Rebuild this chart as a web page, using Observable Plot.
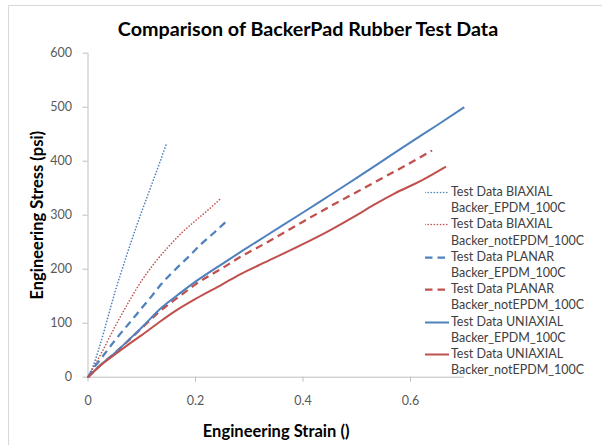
<!DOCTYPE html>
<html>
<head>
<meta charset="utf-8">
<script src="https://cdn.jsdelivr.net/npm/d3@7"></script>
<script src="https://cdn.jsdelivr.net/npm/@observablehq/plot@0.6"></script>
<style>
  body { margin: 0; background: #fff; font-family: Lato, "Open Sans", sans-serif; }
  #chart { position: relative; width: 602px; height: 445px; overflow: hidden; }
  #frame { position: absolute; left: 8px; top: 5px; width: 800px; height: 600px;
           border-top: 1px solid #d9d9d9; border-left: 1px solid #d9d9d9; }
  #title { position: absolute; left: 0; top: 16px; width: 616px; text-align: center;
           font-weight: bold; font-size: 19.7px; line-height: 26px; color: #000; }
  #plot { position: absolute; left: 0; top: 40px; }
  #legend { position: absolute; left: 425px; top: 184px; font-size: 12.5px; color: #404040; }
  .entry { display: flex; align-items: flex-start; height: 32.4px; }
  .entry svg { flex: none; margin-top: 0; }
  .entry .txt { line-height: 16.2px; white-space: nowrap; margin-left: 2px; }
</style>
</head>
<body>
<div id="chart">
  <div id="frame"></div>
  <div id="title"></div>
  <div id="plot"></div>
  <div id="legend"></div>
</div>
<script>
// Engineering stress (psi) vs engineering strain for the BackerPad rubber samples
const title = "Comparison of BackerPad Rubber Test Data";
const xTitle = "Engineering Strain ()";
const yTitle = "Engineering Stress (psi)";
const xTicks = [0, 0.2, 0.4, 0.6];
const yTicks = [0, 100, 200, 300, 400, 500, 600];

const biaxialEpdmStrain = [0, 0.01, 0.02, 0.03, 0.04, 0.05, 0.06, 0.07, 0.08, 0.09, 0.10, 0.11, 0.12, 0.13, 0.145];
const biaxialEpdmStress = [0, 22, 52, 86, 122, 157, 189, 220, 250, 279, 307, 334, 361, 388, 430];

const biaxialNotEpdmStrain = [0, 0.025, 0.05, 0.075, 0.1, 0.125, 0.15, 0.175, 0.2, 0.225, 0.247];
const biaxialNotEpdmStress = [0, 45, 93, 138, 179, 213, 242, 268, 290, 311, 331];

const planarEpdmStrain = [0, 0.01, 0.02, 0.03, 0.05, 0.08, 0.1, 0.12, 0.136, 0.16, 0.185, 0.21, 0.235, 0.259];
const planarEpdmStress = [0, 16, 29, 42, 68, 104, 128, 152, 172, 197, 221, 246, 268, 290];

const planarNotEpdmStrain = [0, 0.025, 0.05, 0.08, 0.1, 0.136, 0.173, 0.2, 0.25, 0.284, 0.33, 0.4, 0.45, 0.5, 0.55, 0.6, 0.64];
const planarNotEpdmStress = [0, 24, 45, 72, 91, 124, 152, 172, 202, 223, 248, 288, 316, 343, 370, 397, 420];

const uniaxialEpdmStrain = [0, 0.025, 0.05, 0.08, 0.1, 0.136, 0.173, 0.2, 0.25, 0.284, 0.33, 0.4, 0.45, 0.5, 0.55, 0.6, 0.65, 0.70];
const uniaxialEpdmStress = [0, 24, 45, 73, 92, 128, 157, 177, 210, 232, 261, 305, 337, 369, 402, 435, 467, 500];

const uniaxialNotEpdmStrain = [0, 0.025, 0.05, 0.08, 0.1, 0.13, 0.16, 0.2, 0.25, 0.284, 0.33, 0.395, 0.45, 0.5, 0.53, 0.57, 0.62, 0.666];
const uniaxialNotEpdmStress = [0, 23, 42, 64, 78, 100, 121, 145, 172, 191, 213, 244, 272, 300, 318, 340, 364, 390];

const seriesNames = [
  ["Test Data BIAXIAL", "Backer_EPDM_100C"],
  ["Test Data BIAXIAL", "Backer_notEPDM_100C"],
  ["Test Data PLANAR", "Backer_EPDM_100C"],
  ["Test Data PLANAR", "Backer_notEPDM_100C"],
  ["Test Data UNIAXIAL", "Backer_EPDM_100C"],
  ["Test Data UNIAXIAL", "Backer_notEPDM_100C"]
];
const seriesStrain = [biaxialEpdmStrain, biaxialNotEpdmStrain, planarEpdmStrain, planarNotEpdmStrain, uniaxialEpdmStrain, uniaxialNotEpdmStrain];
const seriesStress = [biaxialEpdmStress, biaxialNotEpdmStress, planarEpdmStress, planarNotEpdmStress, uniaxialEpdmStress, uniaxialNotEpdmStress];

const BLUE = "#4f81bd", RED = "#c0504d";
const styles = [
  {stroke: BLUE, strokeWidth: 1.6, strokeDasharray: "0.1,3", strokeLinecap: "round"},
  {stroke: RED,  strokeWidth: 1.6, strokeDasharray: "0.1,3", strokeLinecap: "round"},
  {stroke: BLUE, strokeWidth: 2.25, strokeDasharray: "7.5,5", strokeLinecap: "butt"},
  {stroke: RED,  strokeWidth: 2.25, strokeDasharray: "7.5,5", strokeLinecap: "butt"},
  {stroke: BLUE, strokeWidth: 2, strokeDasharray: null, strokeLinecap: "butt"},
  {stroke: RED,  strokeWidth: 2, strokeDasharray: null, strokeLinecap: "butt"}
];

const series = seriesNames.map((name, i) => ({
  name,
  style: styles[i],
  rows: seriesStrain[i].map((x, j) => ({strain: x, stress: seriesStress[i][j]}))
}));

document.getElementById("title").textContent = title;

const axisColor = "#bfbfbf", labelColor = "#595959";
const font = "Lato, 'Open Sans', sans-serif";

const chart = Plot.plot({
  width: 602,
  height: 405,
  marginTop: 12.7,
  marginBottom: 68.3,
  marginLeft: 87.5,
  marginRight: 138.25,
  style: {fontFamily: font, fontSize: "12.5px", background: "transparent", overflow: "visible"},
  x: {domain: [0, 0.7]},
  y: {domain: [0, 600]},
  marks: [
    Plot.axisY({ticks: yTicks, tickSize: 5, tickPadding: 11, stroke: axisColor, fill: labelColor, label: null, tickFormat: d => String(d)}),
    Plot.axisX({ticks: xTicks, tickSize: 5, tickPadding: 14, stroke: axisColor, fill: labelColor, label: null, tickFormat: d => String(d)}),
    Plot.ruleX([0], {stroke: axisColor}),
    Plot.ruleY([0], {stroke: axisColor}),
    ...series.map(s => Plot.line(s.rows, {
      x: "strain", y: "stress",
      stroke: s.style.stroke,
      strokeWidth: s.style.strokeWidth,
      strokeDasharray: s.style.strokeDasharray,
      strokeLinecap: s.style.strokeLinecap,
      curve: "monotone-x"
    })),
    Plot.text([xTitle], {frameAnchor: "bottom", dy: 60, text: d => d, fontWeight: "bold", fontSize: 16.5, fill: "#000"}),
    Plot.text([yTitle], {frameAnchor: "left", textAnchor: "middle", dx: -50, rotate: -90, text: d => d, fontWeight: "bold", fontSize: 16.5, fill: "#000"})
  ]
});
document.getElementById("plot").appendChild(chart);

// Legend: line sample next to the two-line series name
const legend = d3.select("#legend");
series.forEach(s => {
  const row = legend.append("div").attr("class", "entry");
  const sw = row.append("svg").attr("width", 24).attr("height", 16);
  sw.append("line")
    .attr("x1", 0).attr("x2", 24).attr("y1", 8.5).attr("y2", 8.5)
    .attr("stroke", s.style.stroke)
    .attr("stroke-width", s.style.strokeWidth)
    .attr("stroke-dasharray", s.style.strokeDasharray)
    .attr("stroke-linecap", s.style.strokeLinecap);
  const txt = row.append("div").attr("class", "txt");
  txt.append("div").text(s.name[0]);
  txt.append("div").text(s.name[1]);
});
</script>
</body>
</html>
